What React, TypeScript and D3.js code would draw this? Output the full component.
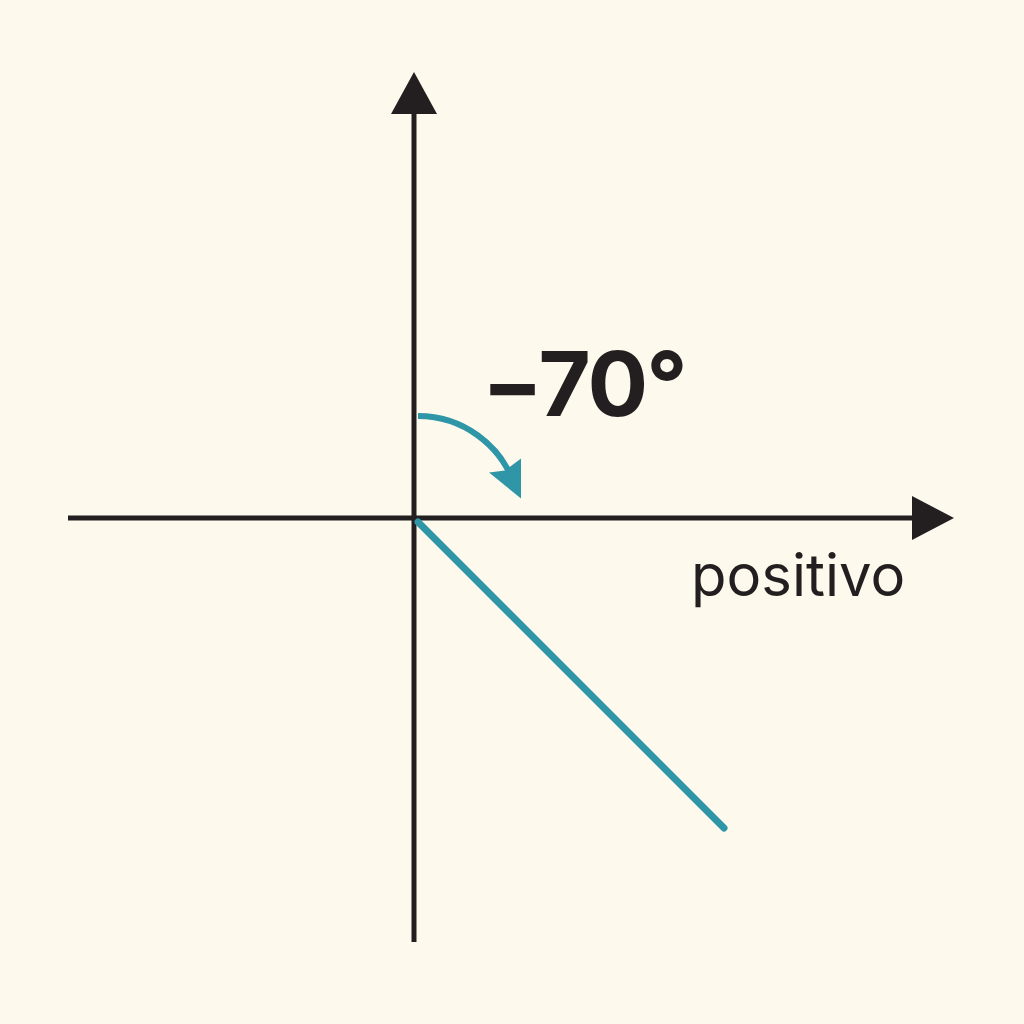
import * as d3 from 'd3'

// diagram values (units: 1 = arc radius)
const xExtent = [-3.46, 5.4]
const yExtent = [-4.24, 4.46]
const rayEnd = [3.1, -3.1]
const arcRadius = 1.02
const arcStartDeg = 0
const arcEndDeg = 72
const angleLabel = '−70°'
const axisLabel = 'positivo'

const W = 1024
const H = 1024
const ink = '#231f20'
const teal = '#2f96a8'

export default function App() {
  const x = d3.scaleLinear().domain(xExtent).range([68, 954])
  const y = d3.scaleLinear().domain(yExtent).range([942, 72])
  const ox = x(0)
  const oy = y(0)
  const r = x(arcRadius) - ox

  const arc = d3.arc()({
    innerRadius: r,
    outerRadius: r,
    startAngle: (arcStartDeg * Math.PI) / 180,
    endAngle: (arcEndDeg * Math.PI) / 180,
  } as any) as string

  const endA = (arcEndDeg * Math.PI) / 180
  const ex = ox + 4 + r * Math.sin(endA)
  const ey = oy - r * Math.cos(endA)

  return (
    <svg width={W} height={H} style={{ position: 'absolute', left: 0, top: 0, background: '#fdf9ec' }}>
      <rect width={W} height={H} fill="#fdf9ec" />
      {/* axes */}
      <line x1={x(xExtent[0])} x2={x(xExtent[1]) - 30} y1={oy} y2={oy} stroke={ink} strokeWidth={5} />
      <line x1={ox} x2={ox} y1={y(yExtent[0])} y2={y(yExtent[1]) + 30} stroke={ink} strokeWidth={5} />
      <path d={`M${x(xExtent[1])},${oy} L${x(xExtent[1]) - 42},${oy - 22} L${x(xExtent[1]) - 42},${oy + 22} Z`} fill={ink} />
      <path d={`M${ox},${y(yExtent[1])} L${ox - 23},${y(yExtent[1]) + 42} L${ox + 23},${y(yExtent[1]) + 42} Z`} fill={ink} />
      {/* ray */}
      <line x1={ox + 4} y1={oy + 4} x2={x(rayEnd[0])} y2={y(rayEnd[1])} stroke={teal} strokeWidth={7} strokeLinecap="round" />
      {/* arc */}
      <path d={arc} transform={`translate(${ox + 4},${oy})`} fill="none" stroke={teal} strokeWidth={6} strokeLinecap="round" />
      <path
        d={`M${ex + 6},${ey + 12} L${ex - 26},${ey - 14} L${ex - 10},${ey - 16} L${ex + 6},${ey - 28} Z`}
        fill={teal}
      />
      <text x={482} y={416} fontFamily="Inter, Roboto, sans-serif" fontWeight={700} fontSize={90} letterSpacing={-2} fill={ink}>
        {angleLabel}
      </text>
      <text x={691} y={596} fontFamily="Inter, Roboto, sans-serif" fontSize={58} fill={ink}>
        {axisLabel}
      </text>
    </svg>
  )
}
